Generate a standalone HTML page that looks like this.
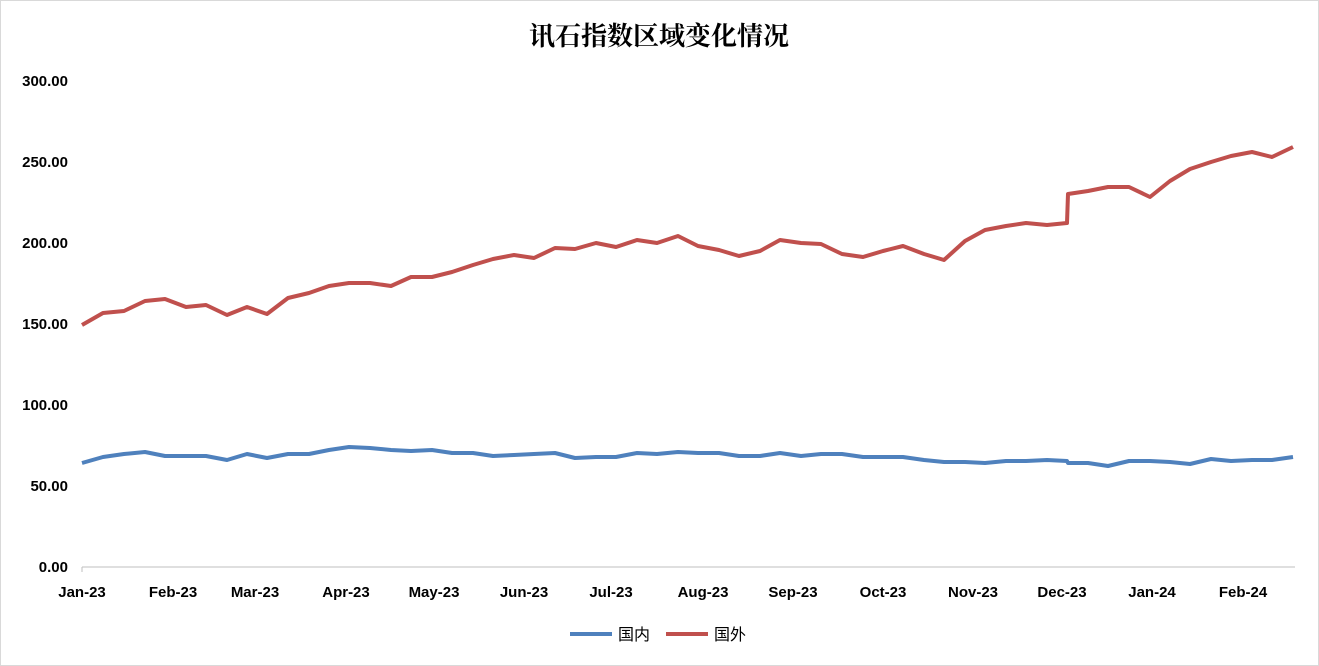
<!DOCTYPE html>
<html><head><meta charset="utf-8"><style>
html,body{margin:0;padding:0;background:#fff}
svg{display:block}
text{font-family:"Liberation Sans","Noto Sans CJK SC",sans-serif}
</style></head><body>
<svg width="1319" height="666" xmlns="http://www.w3.org/2000/svg">
<rect x="0.5" y="0.5" width="1318" height="665" fill="#fff" stroke="#d9d9d9"/>
<text x="659" y="45" text-anchor="middle" font-size="26" style="font-family:'Noto Serif CJK SC',serif;font-weight:bold" fill="#000">讯石指数区域变化情况</text>
<g font-size="15" font-weight="bold" fill="#000" text-anchor="end">
<text x="68" y="86">300.00</text>
<text x="68" y="167">250.00</text>
<text x="68" y="248">200.00</text>
<text x="68" y="329">150.00</text>
<text x="68" y="410">100.00</text>
<text x="68" y="491">50.00</text>
<text x="68" y="572">0.00</text>
</g>
<line x1="82" y1="567" x2="1295" y2="567" stroke="#bfbfbf"/>
<line x1="82" y1="567" x2="82" y2="572" stroke="#bfbfbf"/>
<g font-size="15" font-weight="bold" fill="#000" text-anchor="middle">
<text x="82" y="597">Jan-23</text>
<text x="173" y="597">Feb-23</text>
<text x="255" y="597">Mar-23</text>
<text x="346" y="597">Apr-23</text>
<text x="434" y="597">May-23</text>
<text x="524" y="597">Jun-23</text>
<text x="611" y="597">Jul-23</text>
<text x="703" y="597">Aug-23</text>
<text x="793" y="597">Sep-23</text>
<text x="883" y="597">Oct-23</text>
<text x="973" y="597">Nov-23</text>
<text x="1062" y="597">Dec-23</text>
<text x="1152" y="597">Jan-24</text>
<text x="1243" y="597">Feb-24</text>
</g>
<polyline fill="none" stroke="#c0504d" stroke-width="4" stroke-linejoin="round" points="82,325 103,313 124,311 145,301 165,299 186,307 206,305 227,315 247,307 267,314 288,298 309,293 329,286 349,283 370,283 391,286 411,277 432,277 452,272 473,265 493,259 514,255 534,258 555,248 575,249 596,243 616,247 637,240 657,243 678,236 698,246 719,250 739,256 760,251 780,240 801,243 821,244 842,254 863,257 883,251 903,246 924,254 944,260 965,241 985,230 1006,226 1026,223 1047,225 1067,223 1068,194 1088,191 1108,187 1129,187 1150,197 1170,181 1190,169 1211,162 1231,156 1252,152 1272,157 1293,147"/>
<polyline fill="none" stroke="#4f81bd" stroke-width="4" stroke-linejoin="round" points="82,463 103,457 124,454 145,452 165,456 186,456 206,456 227,460 247,454 267,458 288,454 309,454 329,450 349,447 370,448 391,450 411,451 432,450 452,453 473,453 493,456 514,455 534,454 555,453 575,458 596,457 616,457 637,453 657,454 678,452 698,453 719,453 739,456 760,456 780,453 801,456 821,454 842,454 863,457 883,457 903,457 924,460 944,462 965,462 985,463 1006,461 1026,461 1047,460 1067,461 1068,463 1088,463 1108,466 1129,461 1150,461 1170,462 1190,464 1211,459 1231,461 1252,460 1272,460 1293,457"/>
<line x1="570" y1="634" x2="612" y2="634" stroke="#4f81bd" stroke-width="4"/>
<text x="618" y="640" font-size="16" fill="#000">国内</text>
<line x1="666" y1="634" x2="708" y2="634" stroke="#c0504d" stroke-width="4"/>
<text x="714" y="640" font-size="16" fill="#000">国外</text>
</svg>
</body></html>
